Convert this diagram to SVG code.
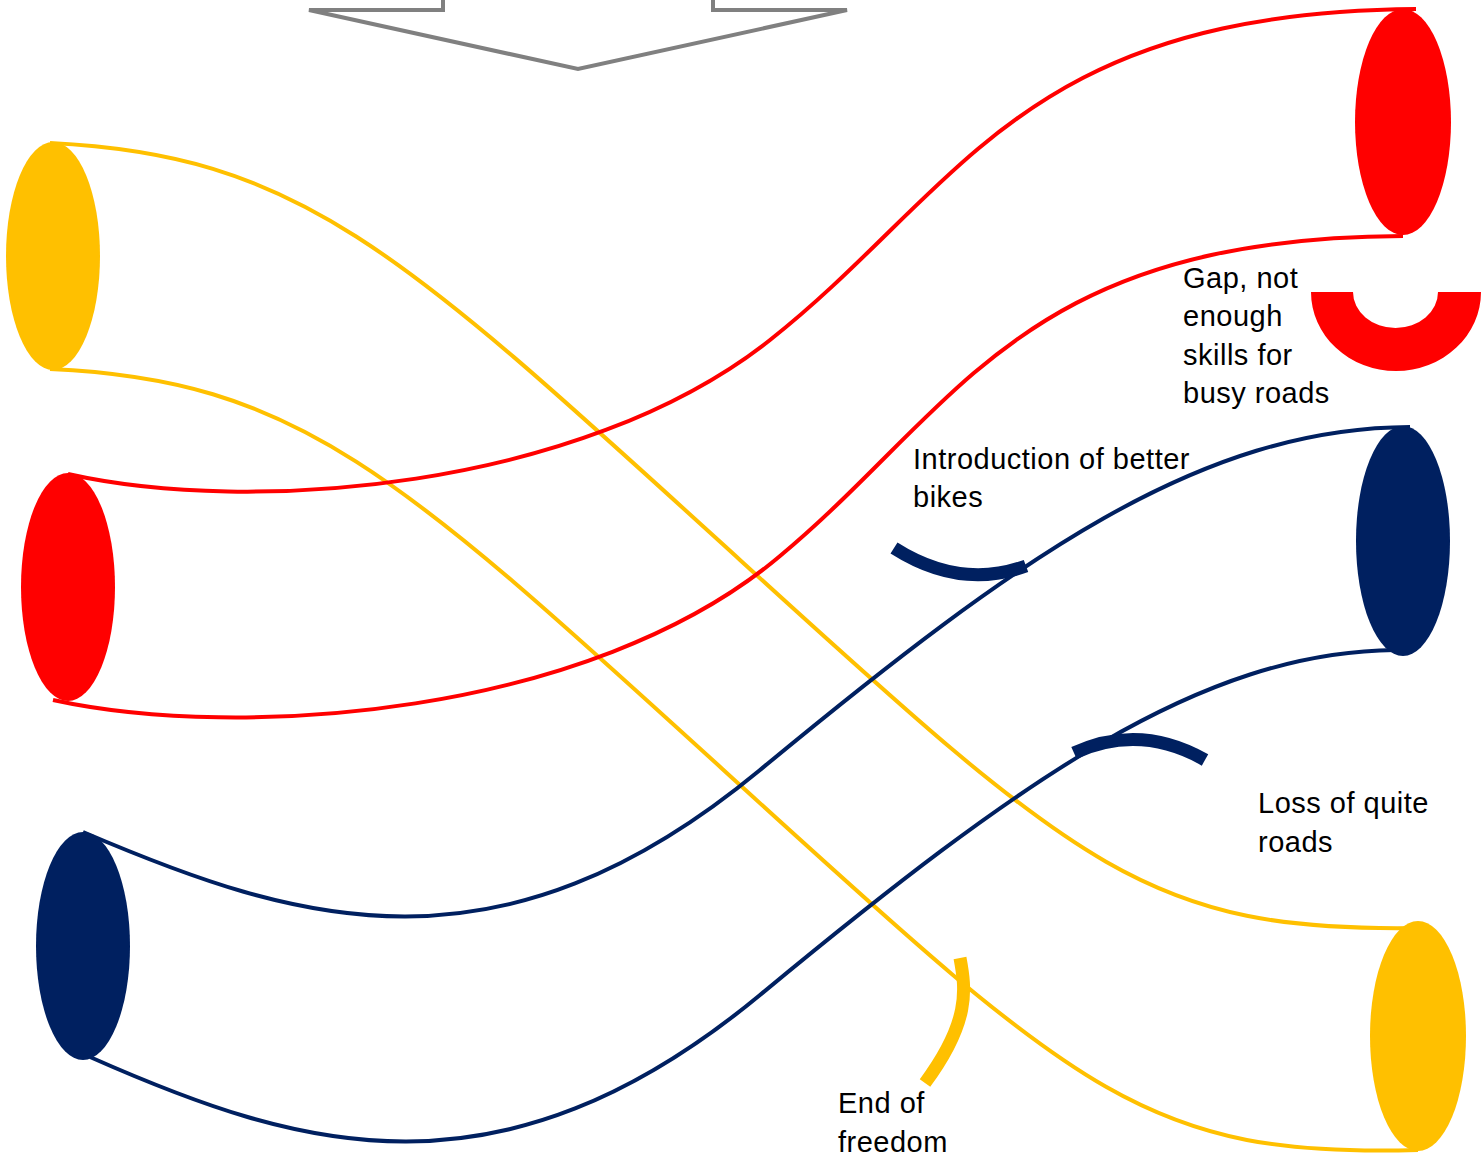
<svg xmlns="http://www.w3.org/2000/svg" width="1484" height="1161" viewBox="0 0 1484 1161">
<style>
.t{font-family:"Liberation Sans",Arial,sans-serif;font-size:29px;letter-spacing:0.5px;fill:#000}
.ln{fill:none;stroke-width:4}
.y{stroke:#FFC000}.r{stroke:#FF0000}.n{stroke:#002060}
.hook{fill:none;stroke-width:13}
</style>
<rect width="1484" height="1161" fill="#fff"/>
<g id="arrow">
<path d="M443,-2 L443,10 L309,10 L578,69 L847,10 L713,10 L713,-2" fill="none" stroke="#808080" stroke-width="4" stroke-linejoin="miter"/>
</g>
<g id="connectors">
<path class="ln y" d="M50,143 C300,155 400,250 740,560 C1080,870 1150,932 1418,928"/>
<path class="ln y" d="M50,369 C300,380 400,475 740,785 C1080,1095 1150,1158 1418,1150"/>
<path class="ln r" d="M68,474 C250,515 580,490 770,340 C960,190 1020,12 1416,9"/>
<path class="ln r" d="M53,700 C240,741 590,716 780,556 C960,406 1020,238 1403,236"/>
<path class="ln n" d="M83,832 C300,925 500,985 760,770 C1020,555 1200,428 1410,427"/>
<path class="ln n" d="M90,1057 C300,1150 500,1210 760,995 C1020,780 1200,652 1395,650"/>
</g>
<g id="left-yellow"><ellipse cx="53" cy="256" rx="47" ry="114" fill="#FFC000"/></g>
<g id="left-red"><ellipse cx="68" cy="587" rx="47" ry="114" fill="#FF0000"/></g>
<g id="left-navy"><ellipse cx="83" cy="946" rx="47" ry="114" fill="#002060"/></g>
<g id="right-red"><ellipse cx="1403" cy="122" rx="48" ry="113" fill="#FF0000"/></g>
<g id="right-navy"><ellipse cx="1403" cy="541" rx="47" ry="115" fill="#002060"/></g>
<g id="right-yellow"><ellipse cx="1418" cy="1036" rx="48" ry="115" fill="#FFC000"/></g>
<g id="gap">
<path d="M1311,292 A85,79 0 0 0 1481,292 L1438,292 A42.5,36 0 0 1 1353,292 Z" fill="#FF0000"/>
<text class="t"><tspan x="1183" y="288">Gap, not</tspan><tspan x="1183" y="326">enough</tspan><tspan x="1183" y="365">skills for</tspan><tspan x="1183" y="403">busy roads</tspan></text>
</g>
<g id="better-bikes">
<path class="hook n" d="M894,548 Q960,590 1026,566"/>
<text class="t"><tspan x="913" y="469">Introduction of better</tspan><tspan x="913" y="507">bikes</tspan></text>
</g>
<g id="quiet-roads">
<path class="hook n" d="M1074,753 Q1140,723 1205,760"/>
<text class="t"><tspan x="1258" y="813">Loss of quite</tspan><tspan x="1258" y="852">roads</tspan></text>
</g>
<g id="freedom">
<path class="hook y" d="M960,958 C966,990 970,1022 925,1083" stroke-width="14"/>
<text class="t"><tspan x="838" y="1113">End of</tspan><tspan x="838" y="1152">freedom</tspan></text>
</g>
</svg>
